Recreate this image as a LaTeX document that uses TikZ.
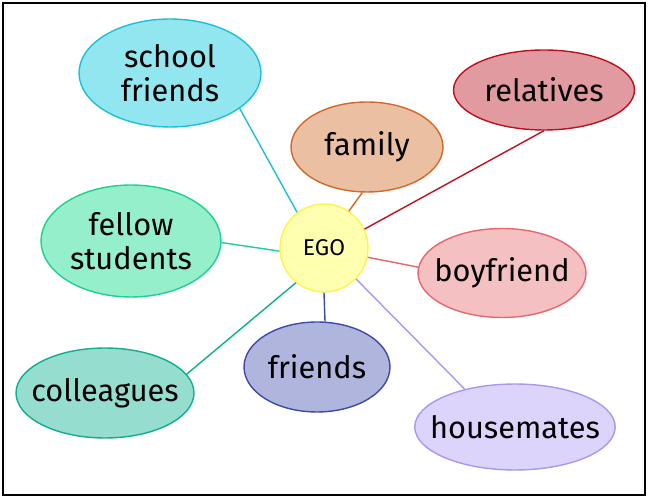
\documentclass[tikz,border=0pt]{standalone}
\usepackage{fontspec}
\setmainfont{Fira Sans}
\usetikzlibrary{shapes.geometric}
\definecolor{sfF}{HTML}{92E6F0}\definecolor{sfD}{HTML}{1CC0D8}
\definecolor{faF}{HTML}{EBBFA2}\definecolor{faD}{HTML}{D2692A}
\definecolor{reF}{HTML}{E19BA0}\definecolor{reD}{HTML}{C0101E}
\definecolor{fsF}{HTML}{96EFCB}\definecolor{fsD}{HTML}{1CD28E}
\definecolor{egF}{HTML}{FFFFB0}\definecolor{egD}{HTML}{FFF44F}
\definecolor{bfF}{HTML}{F4C0C2}\definecolor{bfD}{HTML}{E8676C}
\definecolor{frF}{HTML}{B0B5DD}\definecolor{frD}{HTML}{3D4BA8}
\definecolor{coF}{HTML}{95DECF}\definecolor{coD}{HTML}{0EAE8E}
\definecolor{hmF}{HTML}{DCD4FA}\definecolor{hmD}{HTML}{AA98EE}
\tikzset{el/.style={ellipse,draw,line width=.8pt,inner xsep=-8pt,inner ysep=0pt,align=center,
   font=\fontsize{17.5}{19.5}\selectfont},
 wire/.style={line width=.8pt},
 every node/.style={font=\small}}
\begin{document}
\begin{tikzpicture}[x=0.02cm,y=-0.02cm]
\useasboundingbox (0,0) rectangle (649,499);
\draw[line width=1.1pt] (3,3) rectangle (645,495);
\node[circle,draw=egD,fill=egF,line width=.8pt,minimum size=1.76cm,inner sep=0pt,
  font=\fontsize{13}{15}\selectfont] (ego) at (324,248) {EGO};
\node[el,draw=sfD,fill=sfF,minimum width=3.64cm,minimum height=2.16cm] (sf) at (170,73) {school\\friends};
\node[el,draw=faD,fill=faF,minimum width=3.04cm,minimum height=1.8cm] (fa) at (367,147) {family};
\node[el,draw=reD,fill=reF,minimum width=3.62cm,minimum height=1.6cm] (re) at (544,90) {relatives};
\node[el,draw=fsD,fill=fsF,minimum width=3.6cm,minimum height=2.24cm] (fs) at (131,241) {fellow\\students};
\node[el,draw=bfD,fill=bfF,minimum width=3.36cm,minimum height=1.78cm] (bf) at (502,273) {boyfriend};
\node[el,draw=frD,fill=frF,minimum width=2.92cm,minimum height=1.8cm] (fr) at (317,367) {friends};
\node[el,draw=coD,fill=coF,minimum width=3.56cm,minimum height=1.8cm] (co) at (105,393) {colleagues};
\node[el,draw=hmD,fill=hmF,minimum width=3.94cm,minimum height=1.72cm] (hm) at (515,427) {housemates};
% ties
\draw[wire,sfD] (ego.127) -- (sf.-27);
\draw[wire,faD] (ego.56) -- (fa.-96);
\draw[wire,reD] (ego.25) -- (re.-90);
\draw[wire,fsD] (ego.-176) -- (fs.-1);
\draw[wire,bfD] (ego.-12) -- (bf.176);
\draw[wire,hmD] (ego.-44) -- (hm.143);
\draw[wire,frD] (ego.-90) -- (fr.80);
\draw[wire,coD] (ego.-129) -- (co.13);
\end{tikzpicture}
\end{document}
